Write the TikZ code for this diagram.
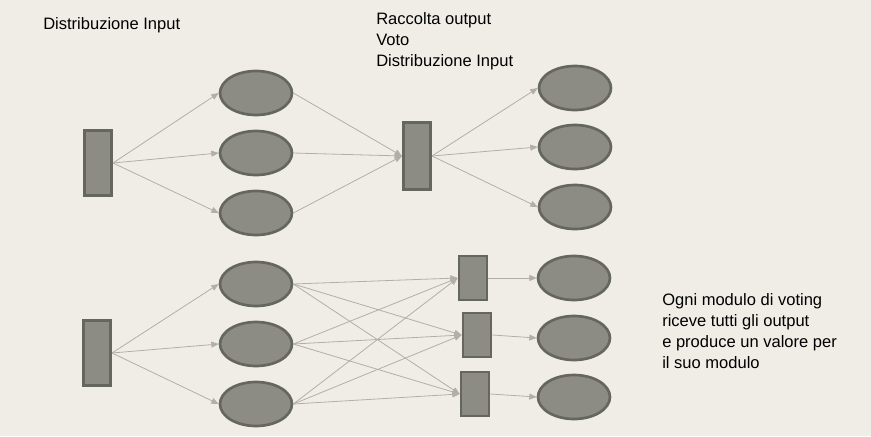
\documentclass[tikz,border=0pt]{standalone}
\usepackage{fontspec}
\setmainfont{Liberation Sans}
\usetikzlibrary{arrows.meta, shapes.geometric}

\begin{document}
\begin{tikzpicture}[x=0.75pt,y=-0.75pt]
    % Define colours
    \definecolor{bgcream}{RGB}{239,237,230}
    \definecolor{modfill}{RGB}{140,140,133}
    \definecolor{moddraw}{RGB}{102,102,96}
    \definecolor{wire}{RGB}{176,175,168}
    \tikzset{
        modbox/.style={draw=moddraw, fill=modfill, line width=2pt,
            inner sep=0pt, minimum width=20.5pt, minimum height=48.75pt},
        votebox/.style={modbox, minimum width=21pt, minimum height=33pt},
        modell/.style={ellipse, draw=moddraw, fill=modfill, line width=2pt,
            inner sep=0pt, minimum width=54pt, minimum height=33pt},
        conn/.style={draw=wire, line width=0.6pt,
            -{Triangle[length=5.5pt,width=4.5pt]}},
        label/.style={anchor=west, align=left, inner sep=0pt,
            font=\fontsize{12.4}{15.75}\selectfont}
    }

    % Background
    \fill[bgcream] (0,0) rectangle (871,436);
    \useasboundingbox (0,0) rectangle (871,436);

    % 1. Input distribution, voting, distribution again
    \begin{scope}
        \node[modbox] (in1) at (98,163) {};
        \foreach \i/\y in {1/93,2/153,3/213} {
            \node[modell] (m\i) at (256,\y) {};
            \draw[conn] (in1.east) -- (m\i.west);
        }
        \node[modbox, minimum height=50.25pt] (vote) at (417,156) {};
        \foreach \i/\y in {1/88,2/147,3/207} {
            \draw[conn] (m\i.east) -- (vote.west);
            \node[modell] (n\i) at (575,\y) {};
            \draw[conn] (vote.east) -- (n\i.west);
        }
        \node[label] (lbl1) at (43,25) {Distribuzione Input};
        \node[label] (lbl2) at (376,41) {Raccolta output\\Voto\\Distribuzione Input};
    \end{scope}

    % 2. One voting module per module
    \begin{scope}
        \node[modbox] (in2) at (97,353) {};
        \foreach \i/\y in {1/284,2/344,3/404} {
            \node[modell] (p\i) at (256,\y) {};
            \draw[conn] (in2.east) -- (p\i.west);
        }
        \foreach \i/\x/\y in {1/473/278,2/477/335,3/475/394} {
            \node[votebox] (v\i) at (\x,\y) {};
        }
        \foreach \i/\y in {1/278,2/338,3/397} {
            \node[modell] (q\i) at (574,\y) {};
            \draw[conn] (v\i.east) -- (q\i.west);
        }
        \foreach \i in {1,2,3} {
            \foreach \j in {1,2,3} {
                \draw[conn] (p\i.east) -- (v\j.west);
            }
        }
        \node[label] (lbl3) at (662,331.5) {Ogni modulo di voting\\riceve tutti gli output\\e produce un valore per\\il suo modulo};
    \end{scope}
\end{tikzpicture}
\end{document}
